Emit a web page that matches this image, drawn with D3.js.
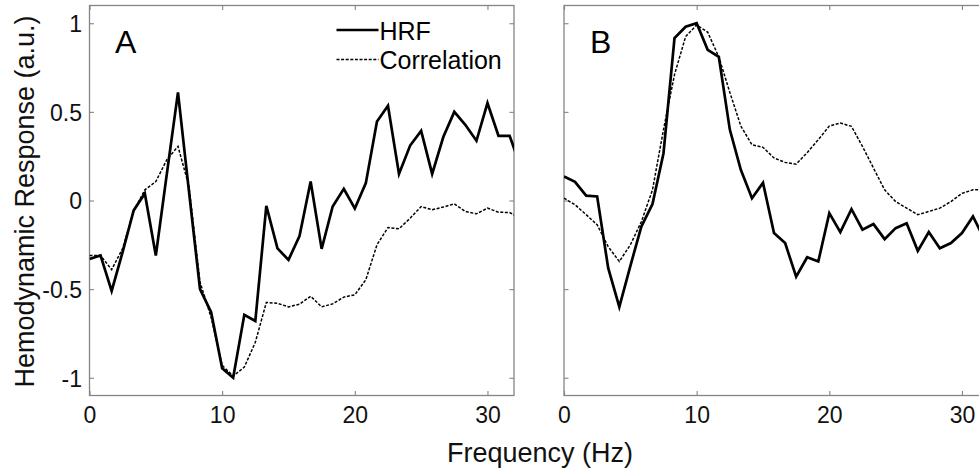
<!DOCTYPE html>
<html>
<head>
<meta charset="utf-8">
<script src="https://cdn.jsdelivr.net/npm/d3@7"></script>
<style>
  html, body { margin: 0; padding: 0; background: #fff; }
  svg { display: block; font-family: "Liberation Sans", Arial, sans-serif; }
</style>
</head>
<body>
<svg id="chart" width="979" height="474"></svg>
<script>
// ---------------- data ----------------
const freq = [0, 0.83, 1.67, 2.5, 3.33, 4.17, 5, 5.83, 6.67, 7.5,
  8.33, 9.17, 10, 10.83, 11.67, 12.5, 13.33, 14.17, 15, 15.83,
  16.67, 17.5, 18.33, 19.17, 20, 20.83, 21.67, 22.5, 23.33, 24.17,
  25, 25.83, 26.67, 27.5, 28.33, 29.17, 30, 30.83, 31.67, 32.5];

const hrfA = [-0.33, -0.31, -0.51, -0.29, -0.056, 0.04, -0.31, 0.15, 0.61, 0.05,
  -0.50, -0.63, -0.946, -1.0, -0.645, -0.68, -0.03, -0.27, -0.335, -0.2,
  0.107, -0.273, -0.034, 0.066, -0.045, 0.098, 0.446, 0.534, 0.15, 0.31,
  0.393, 0.15, 0.358, 0.50, 0.427, 0.337, 0.55, 0.365, 0.365, 0.19];

const corrA = [-0.31, -0.31, -0.39, -0.27, -0.06, 0.06, 0.107, 0.23, 0.305, 0.08,
  -0.46, -0.66, -0.93, -0.99, -0.94, -0.80, -0.575, -0.58, -0.60, -0.585,
  -0.54, -0.60, -0.583, -0.545, -0.532, -0.447, -0.25, -0.152, -0.16, -0.10,
  -0.034, -0.052, -0.037, -0.019, -0.062, -0.075, -0.043, -0.066, -0.068, -0.10];

const hrfB = [0.135, 0.105, 0.027, 0.023, -0.38, -0.60, -0.37, -0.147, -0.02, 0.267,
  0.916, 0.98, 1.0, 0.85, 0.81, 0.40, 0.173, 0.013, 0.10, -0.184,
  -0.24, -0.43, -0.32, -0.344, -0.071, -0.178, -0.049, -0.165, -0.133, -0.218,
  -0.156, -0.128, -0.284, -0.178, -0.269, -0.24, -0.184, -0.09, -0.215];

const corrB = [0.013, -0.024, -0.08, -0.137, -0.26, -0.344, -0.25, -0.12, 0.06, 0.40,
  0.71, 0.925, 0.99, 0.95, 0.81, 0.61, 0.42, 0.314, 0.30, 0.24,
  0.215, 0.205, 0.27, 0.343, 0.42, 0.437, 0.418, 0.305, 0.183, 0.06,
  -0.006, -0.043, -0.08, -0.062, -0.043, -0.006, 0.04, 0.06, 0.06];

const xTicks = [0, 10, 20, 30];
const yTicks = [1, 0.5, 0, -0.5, -1];
const yTickLabels = ["1", "0.5", "0", "-0.5", "-1"];
const panelLabels = ["A", "B"];
const seriesNames = ["HRF", "Correlation"];
const xTitle = "Frequency (Hz)";
const yTitle = "Hemodynamic Response (a.u.)";

// ---------------- layout ----------------
const svg = d3.select("#chart");
const W = 979, H = 474;
svg.append("rect").attr("width", W).attr("height", H).attr("fill", "#fff");

const plotTop = 5.5, plotBottom = 395.5;
const panels = [
  { left: 89.5, right: 514, hrf: hrfA, corr: corrA, label: panelLabels[0], labelX: 115, yLabels: true },
  { left: 564, right: 988.5, hrf: hrfB, corr: corrB, label: panelLabels[1], labelX: 590, yLabels: false }
];

const y = d3.scaleLinear().domain([-1.1, 1.1]).range([plotBottom, plotTop]);
const axisColor = "#858585";
const tickLen = 4.5;

panels.forEach((p, pi) => {
  const x = d3.scaleLinear().domain([0, 32]).range([p.left, p.right]);
  const g = svg.append("g");

  const cid = "clip" + pi;
  svg.append("clipPath").attr("id", cid)
    .append("rect").attr("x", p.left).attr("y", plotTop)
    .attr("width", p.right - p.left).attr("height", plotBottom - plotTop);

  g.append("rect")
    .attr("x", p.left).attr("y", plotTop)
    .attr("width", p.right - p.left).attr("height", plotBottom - plotTop)
    .attr("fill", "none").attr("stroke", axisColor).attr("stroke-width", 1.3);

  const ax = g.append("g").attr("transform", `translate(0,${plotBottom})`)
    .call(d3.axisBottom(x).tickValues(xTicks).tickSize(-tickLen).tickFormat(d3.format("d")));
  ax.select(".domain").remove();
  ax.selectAll(".tick line").attr("stroke", axisColor).attr("stroke-width", 1.1);
  ax.selectAll(".tick text").attr("y", 27).attr("dy", null)
    .attr("font-size", 23).attr("fill", "#111")
    .attr("font-family", "Liberation Sans, Arial, sans-serif");

  const axT = g.append("g").attr("transform", `translate(0,${plotTop})`)
    .call(d3.axisTop(x).tickValues(xTicks).tickSize(-tickLen).tickFormat(""));
  axT.select(".domain").remove();
  axT.selectAll(".tick line").attr("stroke", axisColor).attr("stroke-width", 1.1);

  const ayL = g.append("g").attr("transform", `translate(${p.left},0)`)
    .call(d3.axisLeft(y).tickValues(yTicks).tickSize(-tickLen)
      .tickFormat((d, i) => p.yLabels ? yTickLabels[i] : ""));
  ayL.select(".domain").remove();
  ayL.selectAll(".tick line").attr("stroke", axisColor).attr("stroke-width", 1.1);
  ayL.selectAll(".tick text").attr("x", -7.5).attr("dy", "0.36em")
    .attr("font-size", 23).attr("fill", "#111")
    .attr("font-family", "Liberation Sans, Arial, sans-serif");

  const ayR = g.append("g").attr("transform", `translate(${p.right},0)`)
    .call(d3.axisRight(y).tickValues(yTicks).tickSize(-tickLen).tickFormat(""));
  ayR.select(".domain").remove();
  ayR.selectAll(".tick line").attr("stroke", axisColor).attr("stroke-width", 1.1);

  const line = d3.line().x(d => x(d[0])).y(d => y(d[1]));
  const hrfPts = p.hrf.map((v, i) => [freq[i], v]);
  const corrPts = p.corr.map((v, i) => [freq[i], v]);
  const lg = g.append("g").attr("clip-path", `url(#${cid})`);
  lg.append("path").datum(hrfPts).attr("d", line)
    .attr("fill", "none").attr("stroke", "#000").attr("stroke-width", 2.7)
    .attr("stroke-linejoin", "miter");
  lg.append("path").datum(corrPts).attr("d", line)
    .attr("fill", "none").attr("stroke", "#000").attr("stroke-width", 1.5)
    .attr("stroke-dasharray", "3,1.6");

  g.append("text").attr("x", p.labelX).attr("y", 52.5)
    .attr("font-size", 32).attr("fill", "#000").text(p.label);
});

// legend (panel A)
const legend = svg.append("g");
legend.append("line").attr("x1", 336.5).attr("x2", 378.5).attr("y1", 30).attr("y2", 30)
  .attr("stroke", "#000").attr("stroke-width", 2.7);
legend.append("text").attr("x", 379.5).attr("y", 40).attr("font-size", 25).attr("fill", "#000").text(seriesNames[0]);
legend.append("line").attr("x1", 336.5).attr("x2", 378.5).attr("y1", 59.5).attr("y2", 59.5)
  .attr("stroke", "#000").attr("stroke-width", 1.5).attr("stroke-dasharray", "3,1.6");
legend.append("text").attr("x", 379.5).attr("y", 68.5).attr("font-size", 25).attr("fill", "#000").text(seriesNames[1]);

// axis titles
svg.append("text").attr("x", 540).attr("y", 461.5).attr("text-anchor", "middle")
  .attr("font-size", 27).attr("fill", "#111").text(xTitle);
svg.append("text").attr("transform", "translate(34,201.5) rotate(-90)")
  .attr("text-anchor", "middle").attr("font-size", 27).attr("fill", "#111").text(yTitle);
</script>
</body>
</html>
